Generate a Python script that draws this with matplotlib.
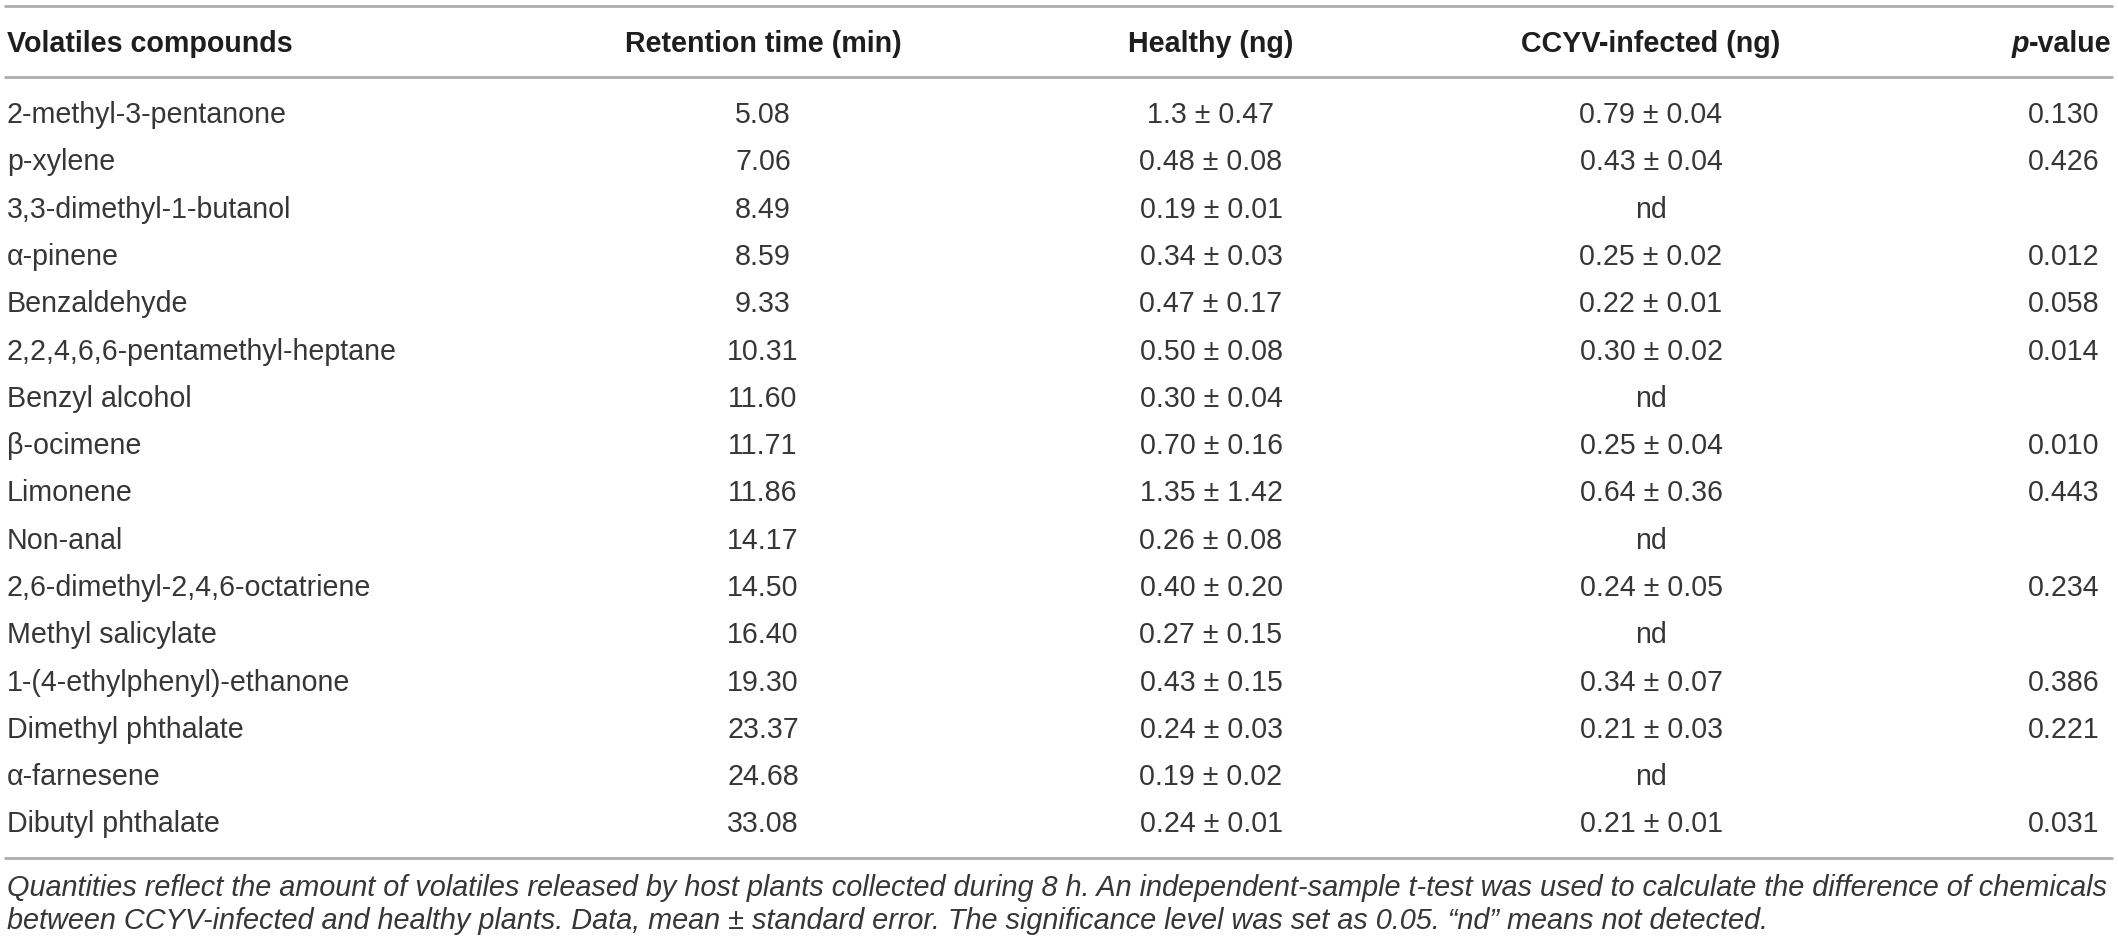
import matplotlib
matplotlib.use('Agg')
import matplotlib.pyplot as plt

# table content
compounds = ['2-methyl-3-pentanone', 'p-xylene', '3,3-dimethyl-1-butanol', 'α-pinene',
             'Benzaldehyde', '2,2,4,6,6-pentamethyl-heptane', 'Benzyl alcohol', 'β-ocimene',
             'Limonene', 'Non-anal', '2,6-dimethyl-2,4,6-octatriene', 'Methyl salicylate',
             '1-(4-ethylphenyl)-ethanone', 'Dimethyl phthalate', 'α-farnesene', 'Dibutyl phthalate']
retention = ['5.08', '7.06', '8.49', '8.59', '9.33', '10.31', '11.60', '11.71',
             '11.86', '14.17', '14.50', '16.40', '19.30', '23.37', '24.68', '33.08']
healthy_mean = ['1.3', '0.48', '0.19', '0.34', '0.47', '0.50', '0.30', '0.70',
                '1.35', '0.26', '0.40', '0.27', '0.43', '0.24', '0.19', '0.24']
healthy_se = ['0.47', '0.08', '0.01', '0.03', '0.17', '0.08', '0.04', '0.16',
              '1.42', '0.08', '0.20', '0.15', '0.15', '0.03', '0.02', '0.01']
infected_mean = ['0.79', '0.43', None, '0.25', '0.22', '0.30', None, '0.25',
                 '0.64', None, '0.24', None, '0.34', '0.21', None, '0.21']
infected_se = ['0.04', '0.04', None, '0.02', '0.01', '0.02', None, '0.04',
               '0.36', None, '0.05', None, '0.07', '0.03', None, '0.01']
p_values = ['0.130', '0.426', '', '0.012', '0.058', '0.014', '', '0.010',
            '0.443', '', '0.234', '', '0.386', '0.221', '', '0.031']

headers = ['Volatiles compounds', 'Retention time (min)', 'Healthy (ng)', 'CCYV-infected (ng)']
caption = ['Quantities reflect the amount of volatiles released by host plants collected during 8 h. '
           'An independent-sample t-test was used to calculate the difference of chemicals',
           'between CCYV-infected and healthy plants. Data, mean \u00b1 standard error. '
           'The significance level was set as 0.05. \u201cnd\u201d means not detected.']

W, H, DPI = 2118, 944, 100
fig = plt.figure(figsize=(W / DPI, H / DPI), dpi=DPI)
ax = fig.add_axes([0, 0, 1, 1])
ax.set_xlim(0, W)
ax.set_ylim(H, 0)
ax.axis('off')

FONT = 'Liberation Sans'
fs = 20.6
txt_col = '#363636'
head_col = '#1e1e1e'
line_col = '#a9a9a9'
x_left = 7
centers = [763, 1211, 1651, 2064]

# rules
for y in [6, 77, 858]:
    ax.plot([4, 2113], [y, y], color=line_col, lw=1.9, solid_capstyle='butt')

# header
hy = 52
ax.text(x_left, hy, headers[0], fontsize=fs, fontweight='bold', family=FONT,
        color=head_col, va='baseline', ha='left')
for h, cx in zip(headers[1:], centers[:3]):
    ax.text(cx, hy, h, fontsize=fs, fontweight='bold', family=FONT,
            color=head_col, va='baseline', ha='center')

renderer = fig.canvas.get_renderer()
tp = ax.text(0, hy, 'p', fontsize=fs, fontweight='bold', fontstyle='italic', family=FONT,
             color=head_col, va='baseline', ha='left')
tv = ax.text(0, hy, '-value', fontsize=fs, fontweight='bold', family=FONT,
             color=head_col, va='baseline', ha='left')
wp = tp.get_window_extent(renderer).width
wv = tv.get_window_extent(renderer).width
x0 = min(centers[3] - (wp + wv) / 2, 2112 - wp - wv)
tp.set_x(x0)
tv.set_x(x0 + wp)

# body rows
y0, dy = 123, 47.3
for i in range(len(compounds)):
    y = y0 + i * dy
    ax.text(x_left, y, compounds[i], fontsize=fs, family=FONT, color=txt_col,
            va='baseline', ha='left')
    ax.text(centers[0], y, retention[i], fontsize=fs, family=FONT, color=txt_col,
            va='baseline', ha='center')
    ax.text(centers[1], y, f'{healthy_mean[i]} \u00b1 {healthy_se[i]}', fontsize=fs,
            family=FONT, color=txt_col, va='baseline', ha='center')
    inf = 'nd' if infected_mean[i] is None else f'{infected_mean[i]} \u00b1 {infected_se[i]}'
    ax.text(centers[2], y, inf, fontsize=fs, family=FONT, color=txt_col,
            va='baseline', ha='center')
    if p_values[i]:
        ax.text(centers[3], y, p_values[i], fontsize=fs, family=FONT, color=txt_col,
                va='baseline', ha='center')

# caption, first line stretched to the full table width
cap_font = ['Liberation Sans Narrow', 'Liberation Sans']
c1 = ax.text(x_left, 896, caption[0], fontsize=20, fontstyle='italic', family=cap_font,
             color=txt_col, va='baseline', ha='left')
w1 = c1.get_window_extent(renderer).width
cfs = 20 * (2110 - x_left) / w1
c1.set_fontsize(cfs)
ax.text(x_left, 929, caption[1], fontsize=cfs, fontstyle='italic', family=cap_font,
        color=txt_col, va='baseline', ha='left')

fig.savefig('out.png', dpi=DPI)
